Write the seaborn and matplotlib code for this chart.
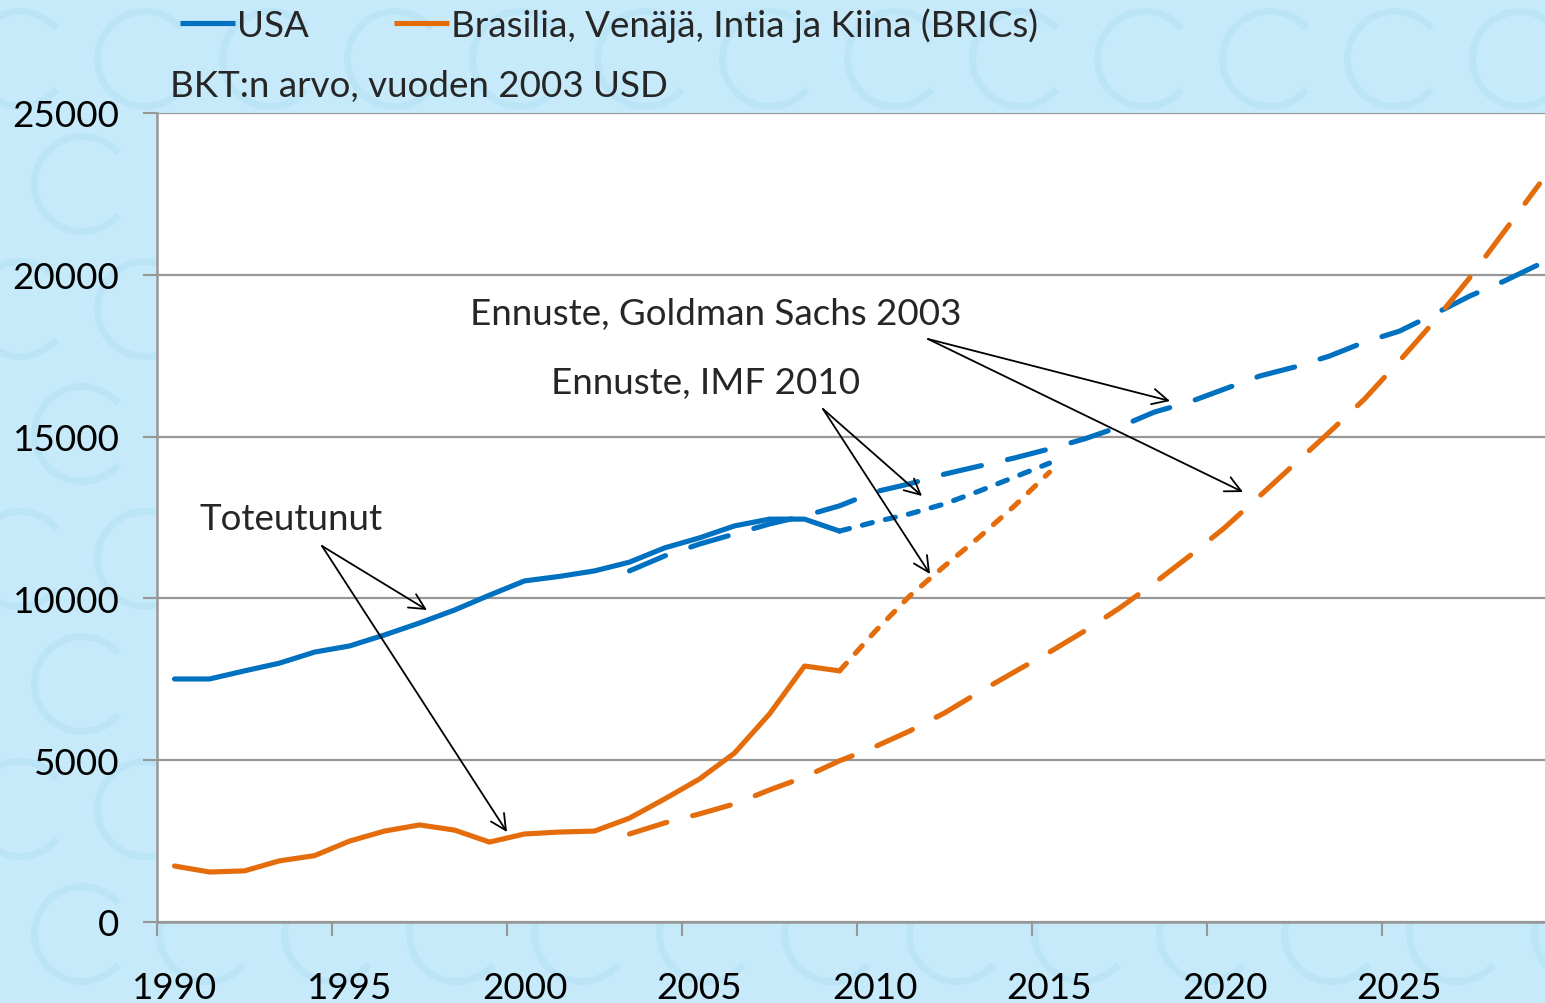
import matplotlib
matplotlib.use("Agg")
import matplotlib.pyplot as plt
from matplotlib.lines import Line2D
from matplotlib.patches import Arc
import seaborn as sns
import pandas as pd

# ---------------- data ----------------
years_actual = list(range(1990, 2010))
usa_actual = [7510, 7510, 7760, 8000, 8340, 8530, 8870, 9240, 9640, 10100,
              10540, 10680, 10850, 11120, 11560, 11870, 12240, 12450, 12450, 12080]
bric_actual = [1730, 1545, 1580, 1890, 2050, 2500, 2810, 3000, 2840, 2470,
               2720, 2780, 2810, 3210, 3800, 4420, 5220, 6430, 7910, 7760]

years_imf = list(range(2009, 2016))
usa_imf = [12080, 12360, 12610, 12920, 13320, 13750, 14180]
bric_imf = [7760, 8960, 10070, 11000, 11900, 12860, 13900]

years_gs = list(range(2003, 2030))
usa_gs = [10850, 11310, 11680, 11990, 12300, 12550, 12860, 13290, 13540, 13840,
          14090, 14340, 14620, 14930, 15300, 15760, 16070, 16470, 16870, 17150,
          17490, 17920, 18260, 18790, 19340, 19810, 20330]
bric_gs = [2720, 3060, 3340, 3650, 4080, 4480, 4980, 5410, 5900, 6460,
           7110, 7730, 8340, 8990, 9700, 10480, 11310, 12180, 13160, 14150,
           15140, 16160, 17340, 18570, 19900, 21350, 22810]

region_usa = "USA"
region_bric = "Brasilia, Venäjä, Intia ja Kiina (BRICs)"
kind_actual = "Toteutunut"
kind_gs = "Ennuste, Goldman Sachs 2003"
kind_imf = "Ennuste, IMF 2010"
subtitle = "BKT:n arvo, vuoden 2003 USD"
x_ticklabels = [1990, 1995, 2000, 2005, 2010, 2015, 2020, 2025]
y_ticks = [0, 5000, 10000, 15000, 20000, 25000]

# ---------------- long-form table ----------------
rows = []
for yrs, vals, reg, kind in [
    (years_actual, usa_actual, region_usa, kind_actual),
    (years_actual, bric_actual, region_bric, kind_actual),
    (years_gs, usa_gs, region_usa, kind_gs),
    (years_gs, bric_gs, region_bric, kind_gs),
    (years_imf, usa_imf, region_usa, kind_imf),
    (years_imf, bric_imf, region_bric, kind_imf),
]:
    for x, v in zip(yrs, vals):
        rows.append({"Vuosi": x, "BKT": v, "Alue": reg, "Tyyppi": kind})
df = pd.DataFrame(rows)

BLUE = "#0070C0"
ORANGE = "#E46C0A"
GRID = "#979797"
BG = "#c6eafa"
PATTERN = "#bbe4f7"

sns.set_theme(style="white")
plt.rcParams["font.family"] = ["Lato", "DejaVu Sans"]

fig = plt.figure(figsize=(15.45, 10.04), dpi=100, facecolor=BG)

# faint wallpaper of euro-like arcs behind the chart (drawn in inches)
for r in range(9):
    for c in range(14):
        cx = (c * 125 + (62 if r % 2 else 0) + 20) / 100
        cy = (1004 - (r * 125 + 60)) / 100
        arc = Arc((cx, cy), 0.95, 0.95, theta1=40, theta2=320,
                  transform=fig.dpi_scale_trans, color=PATTERN, lw=5, zorder=0)
        fig.patches.append(arc)

ax = fig.add_axes([157 / 1545, 1 - 923 / 1004, 1 - 157 / 1545, (923 - 114) / 1004])
ax.set_facecolor("white")
ax.set_zorder(2)

sns.lineplot(
    data=df, x="Vuosi", y="BKT", hue="Alue", style="Tyyppi",
    palette={region_usa: BLUE, region_bric: ORANGE},
    dashes={kind_actual: "", kind_gs: (7.6, 5.2), kind_imf: (2.0, 2.6)},
    hue_order=[region_usa, region_bric],
    style_order=[kind_actual, kind_gs, kind_imf],
    linewidth=3.7, legend=False, ax=ax, errorbar=None,
    dash_capstyle="round", solid_capstyle="round", solid_joinstyle="round",
    zorder=3,
)

FS = 26.5

# axes
x0 = 1989.5
ax.set_xlim(x0, x0 + (1545 - 157) / 35)
ax.set_ylim(0, 25000)
ax.set_yticks(y_ticks)
ax.set_yticklabels([str(v) for v in y_ticks])
ax.yaxis.grid(True, color=GRID, linewidth=1.6, zorder=1)
ax.xaxis.grid(False)
ax.set_axisbelow(True)

ax.set_xticks([x0 + 5 * i for i in range(8)])
ax.set_xticklabels([])
ax.set_xticks(x_ticklabels, minor=True)
ax.set_xticklabels([str(v) for v in x_ticklabels], minor=True)
ax.tick_params(axis="x", which="major", direction="out", length=10, width=1.5,
               color=GRID, bottom=True)
ax.tick_params(axis="x", which="minor", length=0, pad=35, labelsize=FS,
               labelcolor="black", bottom=True)
ax.tick_params(axis="y", which="major", direction="out", length=10, width=1.5,
               color=GRID, pad=17, labelsize=FS, labelcolor="black", left=True)
ax.set_xlabel("")
ax.set_ylabel("")
for s in ["top", "right"]:
    ax.spines[s].set_visible(False)
for s in ["left", "bottom"]:
    ax.spines[s].set_color(GRID)
    ax.spines[s].set_linewidth(1.8)

# annotations
def px2data(px, py):
    return x0 + (px - 157) / 35, (923 - py) / 809 * 25000

tx, ty = px2data(200, 520)
ax.text(tx, ty, kind_actual, fontsize=FS, va="center", ha="left", zorder=5)
tx, ty = px2data(470, 315)
ax.text(tx, ty, kind_gs, fontsize=FS, va="center", ha="left", zorder=5)
tx, ty = px2data(551, 384)
ax.text(tx, ty, kind_imf, fontsize=FS, va="center", ha="left", zorder=5)

arrows = [
    ((322, 547), (427, 611)),
    ((322, 547), (507, 833)),
    ((928, 340), (1170, 402)),
    ((928, 340), (1243, 493)),
    ((823, 410), (922, 497)),
    ((823, 410), (930, 575)),
]
for tail, head in arrows:
    ax.annotate("", xy=px2data(*head), xytext=px2data(*tail),
                arrowprops=dict(arrowstyle="->", color="black", lw=1.3,
                                shrinkA=0, shrinkB=0, mutation_scale=28),
                zorder=6)

# subtitle
fig.text(170 / 1545, 1 - 86 / 1004, subtitle, fontsize=FS, va="center", ha="left",
         zorder=3)

# legend
handles = [Line2D([], [], color=BLUE, lw=3.7, solid_capstyle="butt"),
           Line2D([], [], color=ORANGE, lw=3.7, solid_capstyle="butt")]
leg = fig.legend(handles, [region_usa, region_bric], ncol=2, frameon=False,
                 loc="center left", bbox_to_anchor=(180 / 1545, 1 - 26 / 1004),
                 fontsize=FS, handlelength=1.5, handletextpad=0.05,
                 columnspacing=2.3, borderpad=0, borderaxespad=0)
leg.set_zorder(3)

fig.savefig("out.png", dpi=100, facecolor=BG)
